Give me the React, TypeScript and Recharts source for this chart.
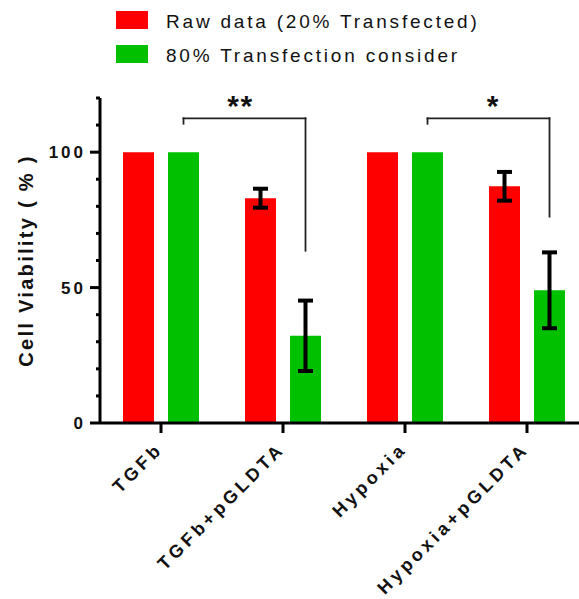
import { BarChart, Bar, XAxis, YAxis, ErrorBar, Legend, Label, ReferenceLine } from 'recharts';

const categories = ['TGFb', 'TGFb+pGLDTA', 'Hypoxia', 'Hypoxia+pGLDTA'];
const seriesNames = ['Raw data (20% Transfected)', '80% Transfection consider'];
const rawValues = [100, 83, 100, 87.4];
const rawErrors = [0, 3.5, 0, 5.3];
const adjValues = [100, 32.2, 100, 49];
const adjErrors = [0, 13, 0, 14];

const yTicks = [0, 10, 20, 30, 40, 50, 60, 70, 80, 90, 100, 110, 120];
const yLabelTicks = [0, 50, 100];

// significance brackets: between green bars of two groups
const sigFrom = ['TGFb', 'Hypoxia'];
const sigTo = ['TGFb+pGLDTA', 'Hypoxia+pGLDTA'];
const sigLevel = 112.5;
const sigLeftEnd = 110.5;
const sigRightEnd = [63.6, 76.2];
const sigLabels = ['**', '*'];
const sigLabelNudge = [-4, 5];

const RED = '#ff0000';
const GREEN = '#00c000';
const FONT = '"Liberation Sans", Arial, sans-serif';

const BAR_SIZE = 31;
const BAR_GAP = 14;
const greenShift = BAR_GAP / 2 + BAR_SIZE / 2;

const data = categories.map((name, i) => ({
  name,
  raw: rawValues[i],
  rawErr: rawErrors[i],
  adj: adjValues[i],
  adjErr: adjErrors[i],
}));

const YTick = ({ x, y, payload }: any) => {
  const major = yLabelTicks.includes(payload.value);
  const axisX = x + 4 + 10;
  return (
    <g>
      <line x1={axisX - (major ? 10 : 4)} x2={axisX} y1={y} y2={y} stroke="#000" strokeWidth={3} />
      {major && (
        <text x={x} y={y} dy={6} textAnchor="end" fontFamily={FONT} fontWeight="bold" fontSize={17} letterSpacing={3} fill="#111">
          {payload.value}
        </text>
      )}
    </g>
  );
};

const XTick = ({ x, y, payload }: any) => {
  const tx = x + 3;
  const ty = y + 15;
  return (
    <text x={tx} y={ty} transform={`rotate(-45, ${tx}, ${ty})`} textAnchor="end" fontFamily={FONT} fontWeight="bold" fontSize={18} letterSpacing={3.8} fill="#111">
      {payload.value}
    </text>
  );
};

const YLabel = ({ viewBox }: any) => {
  const cx = viewBox.x + 25;
  const cy = viewBox.y + viewBox.height / 2;
  return (
    <text x={cx} y={cy} dy={8} transform={`rotate(-90, ${cx}, ${cy})`} textAnchor="middle" fontFamily={FONT} fontWeight="bold" fontSize={20} letterSpacing={2.3} fill="#111">
      Cell Viability ( % )
    </text>
  );
};

const LegendBox = ({ payload }: any) => {
  const items = [...(payload || [])].sort((a: any, b: any) => seriesNames.indexOf(a.value) - seriesNames.indexOf(b.value));
  return (
    <div style={{ fontFamily: FONT }}>
      {items.map((p: any, i: number) => (
        <div key={p.value} style={{ display: 'flex', alignItems: 'center', height: 18, marginTop: i === 0 ? 11 : 16 }}>
          <div style={{ width: 32, height: 18, background: p.color }} />
          <span style={{ marginLeft: 18, fontSize: 19, letterSpacing: 2.8, color: '#111', position: 'relative', top: 2, whiteSpace: 'nowrap' }}>
            {p.value}
          </span>
        </div>
      ))}
    </div>
  );
};

const bracketLine = (label?: string, nudge = 0) => (p: any) => (
  <g>
    <line x1={p.x1 + greenShift} y1={p.y1} x2={p.x2 + greenShift} y2={p.y2} stroke="#222" strokeWidth={1.8} strokeLinecap="square" />
    {label && (
      <text x={(p.x1 + p.x2) / 2 + greenShift + nudge} y={p.y1 - 2} textAnchor="middle" fontFamily={FONT} fontWeight="bold" fontSize={30} letterSpacing={1.6} fill="#111">
        {label}
      </text>
    )}
  </g>
);

export default function App() {
  return (
    <div style={{ position: 'absolute', left: 0, top: 0, width: 579, height: 599, overflow: 'hidden', background: '#fff' }}>
      <BarChart width={588} height={599} data={data} margin={{ top: 98, right: 0, bottom: 26, left: 0 }} barSize={BAR_SIZE} barGap={BAR_GAP}>
        <XAxis
          dataKey="name"
          height={150}
          tickSize={10}
          tickMargin={2}
          axisLine={{ stroke: '#000', strokeWidth: 3 }}
          tickLine={{ stroke: '#000', strokeWidth: 3 }}
          tick={<XTick />}
          interval={0}
        />
        <YAxis
          width={100}
          domain={[0, 120]}
          ticks={yTicks}
          interval={0}
          tickSize={10}
          tickMargin={4}
          tickLine={false}
          axisLine={{ stroke: '#000', strokeWidth: 3 }}
          tick={<YTick />}
        >
          <Label content={<YLabel />} />
        </YAxis>
        <Legend
          layout="vertical"
          align="center"
          verticalAlign="middle"
          wrapperStyle={{ top: 0, left: 116, width: 440 }}
          content={<LegendBox />}
        />
        <Bar dataKey="raw" name={seriesNames[0]} fill={RED} isAnimationActive={false}>
          <ErrorBar dataKey="rawErr" width={7.5} strokeWidth={4} stroke="#000" direction="y" isAnimationActive={false} />
        </Bar>
        <Bar dataKey="adj" name={seriesNames[1]} fill={GREEN} isAnimationActive={false}>
          <ErrorBar dataKey="adjErr" width={7.5} strokeWidth={4} stroke="#000" direction="y" isAnimationActive={false} />
        </Bar>
        {sigFrom.map((from, i) => [
          <ReferenceLine
            key={`l${i}`}
            ifOverflow="visible"
            segment={[{ x: from, y: sigLeftEnd }, { x: from, y: sigLevel }]}
            shape={bracketLine()}
          />,
          <ReferenceLine
            key={`t${i}`}
            ifOverflow="visible"
            segment={[{ x: from, y: sigLevel }, { x: sigTo[i], y: sigLevel }]}
            shape={bracketLine(sigLabels[i], sigLabelNudge[i])}
          />,
          <ReferenceLine
            key={`r${i}`}
            ifOverflow="visible"
            segment={[{ x: sigTo[i], y: sigLevel }, { x: sigTo[i], y: sigRightEnd[i] }]}
            shape={bracketLine()}
          />,
        ])}
      </BarChart>
    </div>
  );
}
